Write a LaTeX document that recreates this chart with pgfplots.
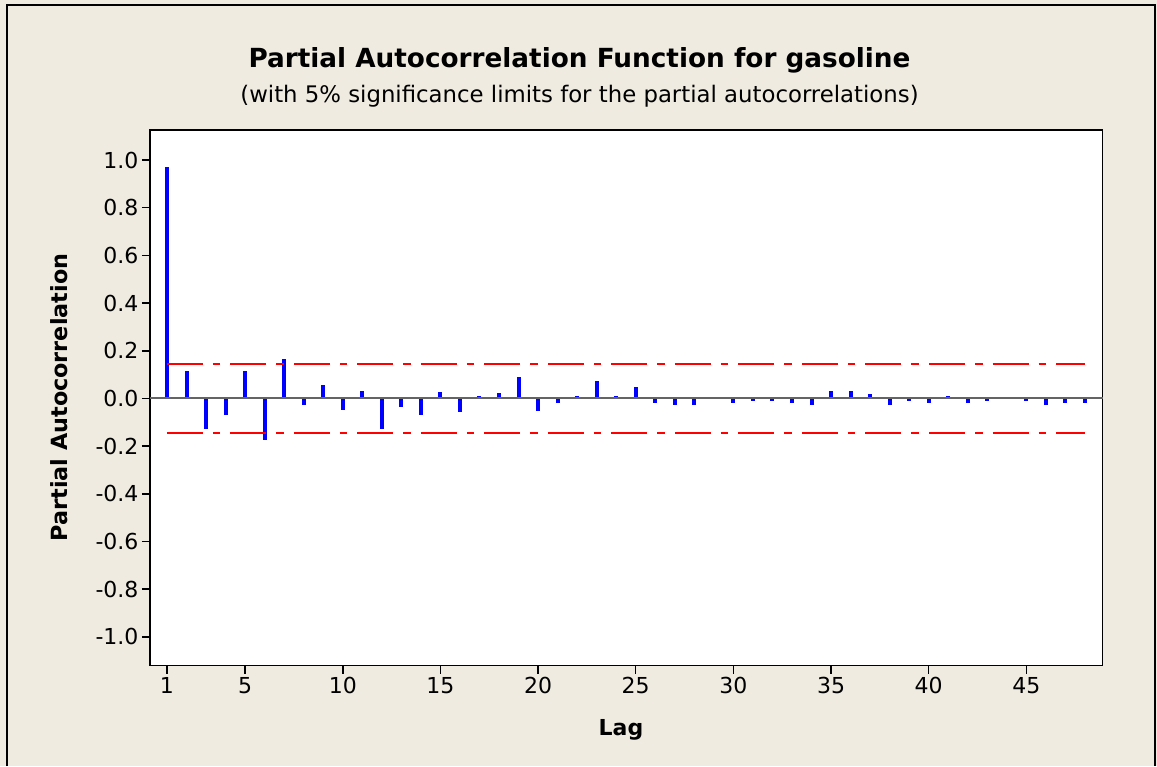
\documentclass[border=0pt]{standalone}
\usepackage{pgfplots}
\pgfplotsset{compat=1.18}
\usepackage{fontspec}
\setmainfont{DejaVu Sans}
\definecolor{bgbeige}{RGB}{239,235,224}
\definecolor{zerogray}{RGB}{100,100,100}
\begin{document}
\begin{tikzpicture}[x=1pt,y=1pt]
\useasboundingbox (0,0) rectangle (1157,766);
\fill[bgbeige] (0,0) rectangle (1157,766);
\draw[black, line width=2pt] (7,0) -- (7,761) -- (1154.5,761) -- (1154.5,0);
\begin{axis}[
  at={(150pt,100.5pt)}, anchor=south west,
  scale only axis, width=952.5pt, height=535.5pt,
  xmin=0.13, xmax=48.9, ymin=-1.12, ymax=1.126,
  axis background/.style={fill=white},
  axis line style={black, line width=1.6pt},
  xtick={1,5,10,15,20,25,30,35,40,45},
  ytick={-1,-0.8,-0.6,-0.4,-0.2,0,0.2,0.4,0.6,0.8,1},
  xtick pos=lower, ytick pos=left,
  tick align=outside, major tick length=8pt,
  tick style={black, line width=1.5pt},
  yticklabel style={/pgf/number format/.cd, fixed, fixed zerofill, precision=1},
  /pgf/number format/assume math mode=true,
  tick label style={font=\fontsize{22}{26}\selectfont},
  xlabel={Lag},
  ylabel={Partial Autocorrelation},
  xlabel style={at={(rel axis cs:0.4945,-0.1298)}, anchor=base, font=\fontsize{22}{26}\selectfont\bfseries},
  ylabel style={at={(rel axis cs:-0.0871,0.5005)}, anchor=base, font=\fontsize{22.3}{26}\selectfont\bfseries},
  clip=false,
]
\addplot[ycomb, blue, line width=4pt, mark=none] coordinates {
(1,0.971) (2,0.117) (3,-0.127) (4,-0.068) (5,0.117) (6,-0.176) (7,0.166) (8,-0.026)
(9,0.057) (10,-0.050) (11,0.033) (12,-0.127) (13,-0.035) (14,-0.068) (15,0.026) (16,-0.058)
(17,0.011) (18,0.025) (19,0.092) (20,-0.052) (21,-0.018) (22,0.011) (23,0.075) (24,0.011)
(25,0.050) (26,-0.018) (27,-0.026) (28,-0.026) (29,-0.002) (30,-0.018) (31,-0.011) (32,-0.011)
(33,-0.018) (34,-0.026) (35,0.033) (36,0.033) (37,0.017) (38,-0.026) (39,-0.011) (40,-0.018)
(41,0.011) (42,-0.018) (43,-0.011) (44,-0.002) (45,-0.011) (46,-0.026) (47,-0.018) (48,-0.018)
};
\addplot[zerogray, line width=2pt, mark=none] coordinates {(0.13,0) (48.9,0)};
\addplot[red, line width=2pt, mark=none, dash pattern=on 36pt off 10pt on 7.5pt off 10pt] coordinates {(1,0.143) (48,0.143)};
\addplot[red, line width=2pt, mark=none, dash pattern=on 36pt off 10pt on 7.5pt off 10pt] coordinates {(1,-0.143) (48,-0.143)};
\end{axis}
\node[anchor=base, font=\fontsize{26.3}{30}\selectfont\bfseries] at (579.5,698) {Partial Autocorrelation Function for gasoline};
\node[anchor=base, font=\fontsize{22.8}{26}\selectfont] at (579.5,663) {(with 5\% significance limits for the partial autocorrelations)};
\end{tikzpicture}
\end{document}
